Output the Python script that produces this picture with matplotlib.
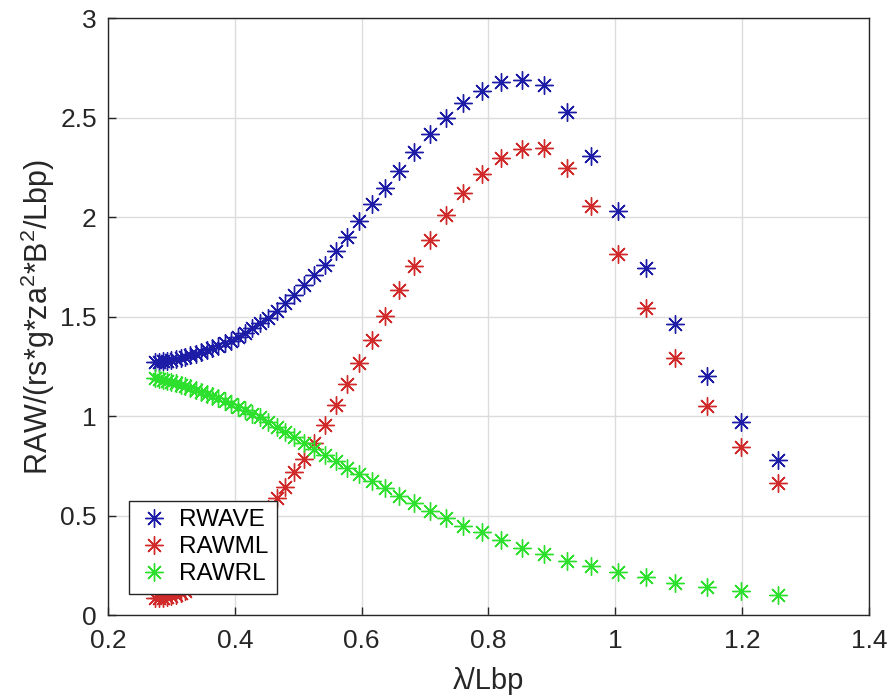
import matplotlib
matplotlib.use("Agg")
import matplotlib.pyplot as plt

plt.rcParams['font.family'] = ['Liberation Sans', 'DejaVu Sans']
plt.rcParams['mathtext.default'] = 'regular'

# lambda / Lbp (shared by all three series)
x = [1.2565, 1.1988, 1.1450, 1.0947, 1.0477, 1.0036, 0.9623, 0.9234, 0.8869, 0.8525,
     0.8200, 0.7894, 0.7604, 0.7331, 0.7071, 0.6826, 0.6592, 0.6371, 0.6161, 0.5960,
     0.5770, 0.5588, 0.5415, 0.5250, 0.5092, 0.4941, 0.4797, 0.4659, 0.4527, 0.4400,
     0.4279, 0.4163, 0.4051, 0.3944, 0.3841, 0.3742, 0.3646, 0.3555, 0.3466, 0.3381,
     0.3300, 0.3221, 0.3144, 0.3071, 0.3000, 0.2931, 0.2865, 0.2801, 0.2739]

rwave = [0.779, 0.970, 1.201, 1.462, 1.745, 2.030, 2.307, 2.526, 2.663, 2.688,
         2.677, 2.635, 2.571, 2.496, 2.416, 2.328, 2.233, 2.144, 2.064, 1.980,
         1.900, 1.830, 1.760, 1.709, 1.658, 1.608, 1.566, 1.528, 1.491, 1.465,
         1.440, 1.415, 1.395, 1.378, 1.365, 1.352, 1.340, 1.330, 1.320, 1.312,
         1.305, 1.298, 1.292, 1.287, 1.282, 1.278, 1.275, 1.272, 1.270]

rawml = [0.665, 0.845, 1.050, 1.290, 1.545, 1.815, 2.057, 2.245, 2.348, 2.342,
         2.295, 2.216, 2.122, 2.010, 1.884, 1.755, 1.633, 1.504, 1.382, 1.265,
         1.159, 1.055, 0.955, 0.866, 0.784, 0.717, 0.645, 0.586, 0.535, 0.490,
         0.445, 0.405, 0.370, 0.335, 0.300, 0.270, 0.240, 0.210, 0.185, 0.160,
         0.140, 0.120, 0.110, 0.100, 0.095, 0.090, 0.087, 0.085, 0.083]

rawrl = [0.100, 0.120, 0.142, 0.163, 0.190, 0.215, 0.245, 0.273, 0.305, 0.338,
         0.377, 0.415, 0.449, 0.489, 0.524, 0.564, 0.600, 0.637, 0.673, 0.708,
         0.740, 0.772, 0.805, 0.835, 0.865, 0.893, 0.920, 0.945, 0.970, 0.993,
         1.012, 1.030, 1.045, 1.060, 1.075, 1.090, 1.100, 1.112, 1.122, 1.132,
         1.142, 1.150, 1.158, 1.165, 1.171, 1.176, 1.181, 1.185, 1.190]

labels = ['RWAVE', 'RAWML', 'RAWRL']
colors = ['#1c1ca6', '#d02a2a', '#2ee02e']

xticks = [0.2, 0.4, 0.6, 0.8, 1.0, 1.2, 1.4]
xticklabels = ['0.2', '0.4', '0.6', '0.8', '1', '1.2', '1.4']
yticks = [0, 0.5, 1, 1.5, 2, 2.5, 3]
yticklabels = ['0', '0.5', '1', '1.5', '2', '2.5', '3']

fig = plt.figure(figsize=(8.9, 6.98), dpi=100)
ax = fig.add_axes([0.1213, 0.1189, 0.8551, 0.8553])

star = (8, 2, 0)
for ys, lab, c in zip([rwave, rawml, rawrl], labels, colors):
    ax.plot(x, ys, linestyle='none', marker=star, markersize=13,
            markeredgewidth=1.0, color=c, markeredgecolor=c, label=lab)

ax.set_xlim(0.2, 1.4)
ax.set_ylim(0, 3)
ax.set_xticks(xticks)
ax.set_xticklabels(xticklabels)
ax.set_yticks(yticks)
ax.set_yticklabels(yticklabels)
ax.grid(True, color='#dcdcdc', linewidth=1.0)
ax.set_axisbelow(True)
for s in ax.spines.values():
    s.set_color('#262626')
    s.set_linewidth(1.0)
ax.tick_params(direction='in', length=6, width=1.0, colors='#262626',
               labelsize=19)
ax.tick_params(axis='x', pad=10)
ax.tick_params(axis='y', pad=8)

ax.set_xlabel('λ/Lbp', fontsize=21, color='#262626', labelpad=10)
ax.set_ylabel('RAW/(rs*g*za$^{2}$*B$^{2}$/Lbp)', fontsize=22, color='#262626', labelpad=2)

leg = ax.legend(loc='lower left', bbox_to_anchor=(0.028, 0.036), fontsize=17.5,
                frameon=True, fancybox=False, edgecolor='#262626', framealpha=1,
                borderpad=0.35, handletextpad=0.4, handlelength=1.3,
                labelspacing=0.2, borderaxespad=0)
leg.get_frame().set_linewidth(1.0)

fig.savefig('out.png', dpi=100)
